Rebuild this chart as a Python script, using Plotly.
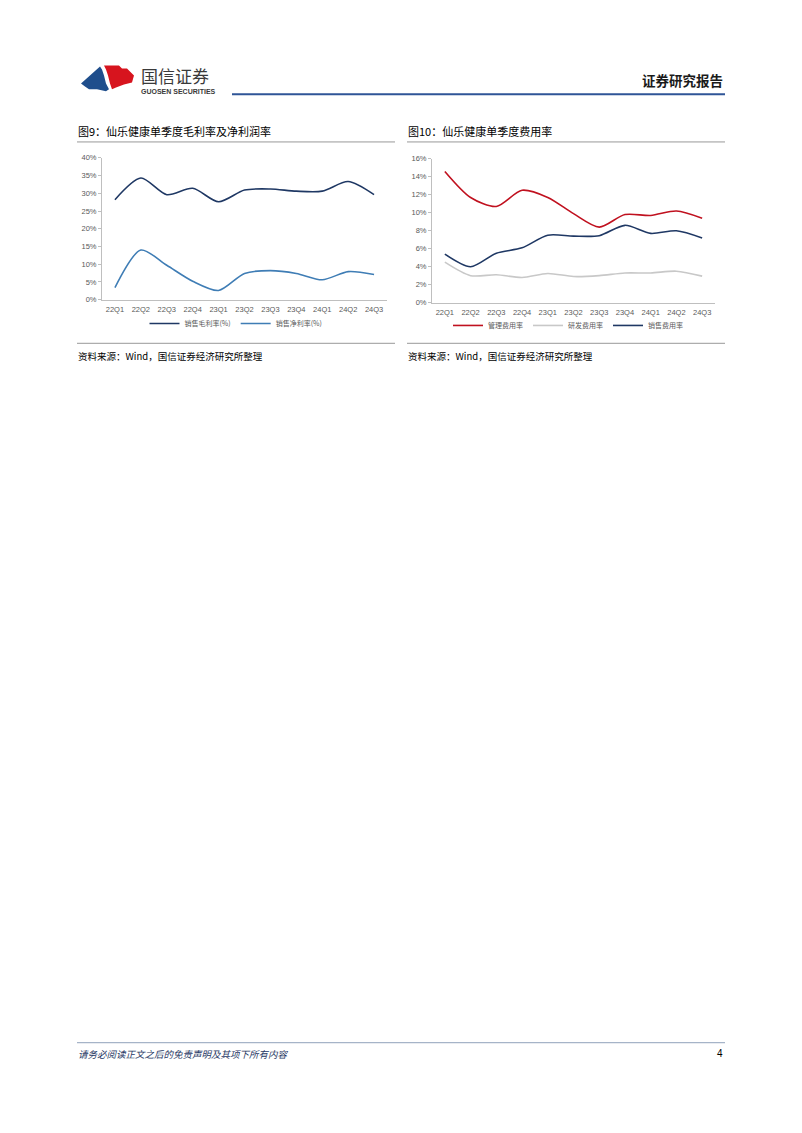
import plotly.graph_objects as go

# page is 802x1133; the html body adds an 8px margin, so the figure is 16px smaller
PAGE_W, PAGE_H = 802, 1133
OFF = 8
W, H = PAGE_W - 2 * OFF, PAGE_H - 2 * OFF

quarters = ['22Q1', '22Q2', '22Q3', '22Q4', '23Q1', '23Q2', '23Q3', '23Q4', '24Q1', '24Q2', '24Q3']

# 图9 (%)
gross_margin = [28.2, 34.3, 29.6, 31.4, 27.6, 30.9, 31.2, 30.6, 30.6, 33.3, 29.6]
net_margin = [3.4, 14.0, 9.7, 5.2, 2.6, 7.4, 8.2, 7.4, 5.6, 7.9, 7.1]

# 图10 (%)
admin_rate = [14.6, 11.7, 10.7, 12.5, 11.7, 9.9, 8.4, 9.8, 9.7, 10.2, 9.4]
rd_rate = [4.5, 3.0, 3.1, 2.8, 3.25, 2.9, 3.0, 3.3, 3.3, 3.5, 2.95]
sales_rate = [5.4, 4.0, 5.5, 6.1, 7.5, 7.4, 7.45, 8.6, 7.7, 8.0, 7.2]

CJK = 'Noto Sans CJK SC'
LAT = 'Liberation Sans'


def X(px):
    return (px - OFF) / W


def Y(py):
    return 1 - (py - OFF) / H


def path(points, close=True):
    s = 'M ' + ' L '.join(f'{X(a):.5f},{Y(b):.5f}' for a, b in points)
    return s + (' Z' if close else '')


fig = go.Figure()

fig.add_trace(go.Scatter(x=quarters, y=gross_margin, name='销售毛利率(%)', mode='lines',
                         line=dict(color='#1F3864', width=1.6, shape='spline', smoothing=0.8),
                         xaxis='x', yaxis='y', legend='legend'))
fig.add_trace(go.Scatter(x=quarters, y=net_margin, name='销售净利率(%)', mode='lines',
                         line=dict(color='#3F7DB5', width=1.6, shape='spline', smoothing=0.8),
                         xaxis='x', yaxis='y', legend='legend'))

fig.add_trace(go.Scatter(x=quarters, y=admin_rate, name='管理费用率', mode='lines',
                         line=dict(color='#C0111F', width=1.6, shape='spline', smoothing=0.8),
                         xaxis='x2', yaxis='y2', legend='legend2'))
fig.add_trace(go.Scatter(x=quarters, y=rd_rate, name='研发费用率', mode='lines',
                         line=dict(color='#C8C8C8', width=1.6, shape='spline', smoothing=0.8),
                         xaxis='x2', yaxis='y2', legend='legend2'))
fig.add_trace(go.Scatter(x=quarters, y=sales_rate, name='销售费用率', mode='lines',
                         line=dict(color='#1F3864', width=1.6, shape='spline', smoothing=0.8),
                         xaxis='x2', yaxis='y2', legend='legend2'))

tickfont = dict(family=LAT, size=7.5, color='#595959')
xcommon = dict(type='category', range=[-0.5, 10.5], showgrid=False, showline=True,
               linecolor='#BFBFBF', linewidth=1, ticks='', tickfont=tickfont, ticklabelstandoff=2)
ycommon = dict(showgrid=False, showline=True, linecolor='#BFBFBF', linewidth=1, ticks='outside',
               ticklen=3, tickcolor='#BFBFBF', ticksuffix='%', tickfont=tickfont, zeroline=False)

legfont = dict(family=CJK, size=7, color='#595959')

fig.update_layout(
    width=W, height=H,
    margin=dict(l=0, r=0, t=0, b=0),
    paper_bgcolor='white', plot_bgcolor='white',
    xaxis=dict(domain=[X(102), X(387)], anchor='y', **xcommon),
    yaxis=dict(domain=[Y(298), Y(155)], anchor='x', range=[0, 40], dtick=5, **ycommon),
    xaxis2=dict(domain=[X(432), X(715)], anchor='y2', **xcommon),
    yaxis2=dict(domain=[Y(301), Y(156)], anchor='x2', range=[0, 16], dtick=2, **ycommon),
    legend=dict(orientation='h', x=X(236), xanchor='center', y=Y(322), yanchor='middle',
                font=legfont, bgcolor='rgba(0,0,0,0)', itemwidth=30, tracegroupgap=0),
    legend2=dict(orientation='h', x=X(568), xanchor='center', y=Y(324), yanchor='middle',
                 font=legfont, bgcolor='rgba(0,0,0,0)', itemwidth=30, tracegroupgap=0),
)

shapes = []
# header rule
shapes.append(dict(type='line', xref='paper', yref='paper', x0=X(232), x1=X(725), y0=Y(91), y1=Y(91),
                   line=dict(color='#2F5597', width=2)))
# logo: red upper-right block, blue lower-left block, split by a white S-curve
shapes.append(dict(type='path', xref='paper', yref='paper',
                   path=path([(104, 62), (119, 62), (122, 65), (127, 65), (134, 72), (132, 79),
                              (124, 81), (116, 84), (112, 86), (110, 80), (108, 72), (106, 66)]),
                   fillcolor='#D7141E', line=dict(width=0)))
shapes.append(dict(type='path', xref='paper', yref='paper',
                   path=path([(81, 80), (100, 63), (102, 66), (104, 72), (106, 80), (109, 86),
                              (106, 88), (97, 86), (89, 86), (85, 83)]),
                   fillcolor='#1F4E8C', line=dict(width=0)))
# title rules and source rules
for x0, x1 in [(77, 395), (407, 725)]:
    shapes.append(dict(type='line', xref='paper', yref='paper', x0=X(x0), x1=X(x1), y0=Y(139), y1=Y(139),
                       line=dict(color='#7F7F7F', width=0.8)))
    shapes.append(dict(type='line', xref='paper', yref='paper', x0=X(x0), x1=X(x1), y0=Y(342), y1=Y(342),
                       line=dict(color='#7F7F7F', width=0.8)))
# footer rule
shapes.append(dict(type='line', xref='paper', yref='paper', x0=X(77), x1=X(725), y0=Y(1047), y1=Y(1047),
                   line=dict(color='#A6B4C8', width=1.2)))
fig.update_layout(shapes=shapes)


def note(text, x, y, size, color='#000000', xanchor='left', family=CJK):
    fig.add_annotation(text=text, xref='paper', yref='paper', x=X(x), y=Y(y), xanchor=xanchor,
                       yanchor='middle', showarrow=False, font=dict(family=family, size=size, color=color))


note('国信证券', 139, 72, 17, '#3A3A3A')
note('<b>GUOSEN SECURITIES</b>', 139, 88, 7, '#3A3A3A', family=LAT)
note('<b>证券研究报告</b>', 725, 77, 13.5, '#1A1A1A', xanchor='right')
note('图9：仙乐健康单季度毛利率及净利润率', 76, 128, 11)
note('图10：仙乐健康单季度费用率', 406, 128, 11)
note('资料来源：Wind，国信证券经济研究所整理', 76, 355, 9.5)
note('资料来源：Wind，国信证券经济研究所整理', 406, 355, 9.5)
note('<i>请务必阅读正文之后的免责声明及其项下所有内容</i>', 76, 1058, 9.5, '#1F3864')
note('4', 725, 1058, 10, '#000000', xanchor='right', family=LAT)

fig.write_html('out.html')
